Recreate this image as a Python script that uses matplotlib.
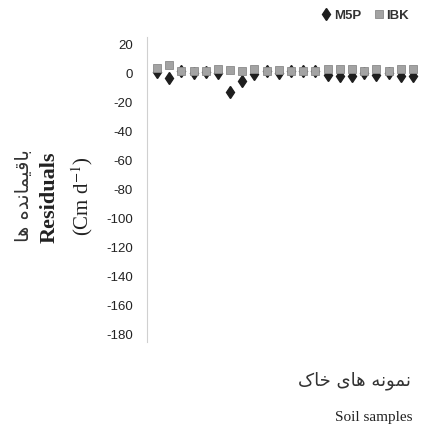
import matplotlib
matplotlib.use("Agg")
import matplotlib.pyplot as plt

# residuals per soil sample for the two models
samples = list(range(1, 23))
m5p = [1, -3, 2, 0.5, 1, 0, -13, -5, -0.5, 2, 0.5, 2, 2, 2,
       -1, -1.5, -1.5, 0.5, -1, 0.5, -1.5, -1.5]
ibk = [3.5, 6, 1.5, 1.5, 2, 3, 2.5, 2, 3, 2, 2.5, 1.5, 1.5, 1.5,
       3, 3, 3, 2, 3, 2, 3, 3]
yticks = list(range(20, -181, -20))

# Persian strings written in shaped presentation forms, visual order
fa_ylabel = "\ufe8e\ufeeb \ufee9\ufeaa\ufee7\ufe8e\ufee4\ufef4\ufed7\ufe8e\ufe91"
fa_xlabel = "\ufb8e\ufe8e\ufea7 \ufeef\ufe8e\ufeeb \ufeea\ufee7\ufeee\ufee4\ufee7"

SANS = ["Liberation Sans", "DejaVu Sans"]
SERIF = ["Liberation Serif", "DejaVu Serif"]
plt.rcParams["mathtext.fontset"] = "stix"

fig = plt.figure(figsize=(4.21, 4.32), dpi=100)
ax = fig.add_axes([0.349, 0.208, 0.651, 0.706])

ax.plot(samples, m5p, linestyle="none", marker="d", ms=6.5, color="#1e1e1e",
        markeredgecolor="#1e1e1e", label="M5P", zorder=2)
ax.plot(samples, ibk, linestyle="none", marker="s", ms=5.2, color="#a3a3a3",
        markeredgecolor="#8a8a8a", markeredgewidth=0.6, label="IBK", zorder=3)

ax.set_ylim(-185, 25)
ax.set_xlim(0.18, 22.66)
ax.set_yticks(yticks)
ax.set_yticklabels([str(v) for v in yticks], family=SANS, fontsize=9.5,
                   color="#222222")
ax.tick_params(axis="y", length=0, pad=10)
ax.set_xticks([])
for side in ("top", "right", "bottom"):
    ax.spines[side].set_visible(False)
ax.spines["left"].set_color("#d0d0d0")
ax.spines["left"].set_linewidth(0.8)

# stacked vertical axis captions
fig.text(0.055, 0.548, fa_ylabel, rotation=90, ha="center", va="center",
         fontsize=14, family=["DejaVu Sans"], color="#333333")
fig.text(0.119, 0.543, "Residuals", rotation=90, ha="center", va="center",
         fontsize=16, family=SERIF, fontweight="bold", color="#222222")
fig.text(0.195, 0.546, "(Cm d$^{-1}$)", rotation=90, ha="center",
         va="center", fontsize=15, family=SERIF, color="#222222")

fig.text(0.975, 0.118, fa_xlabel, ha="right", va="center", fontsize=13,
         family=["DejaVu Sans"], color="#333333")
fig.text(0.98, 0.033, "Soil samples", ha="right", va="center", fontsize=11,
         family=SERIF, color="#222222")

leg = fig.legend(loc="upper right", bbox_to_anchor=(1.0, 1.005), ncol=2,
                 frameon=False, handlelength=0.6, handletextpad=0.3,
                 columnspacing=1.0,
                 prop={"family": SANS, "weight": "bold", "size": 9.5})
for t in leg.get_texts():
    t.set_color("#333333")

fig.savefig("out.png", dpi=100)
